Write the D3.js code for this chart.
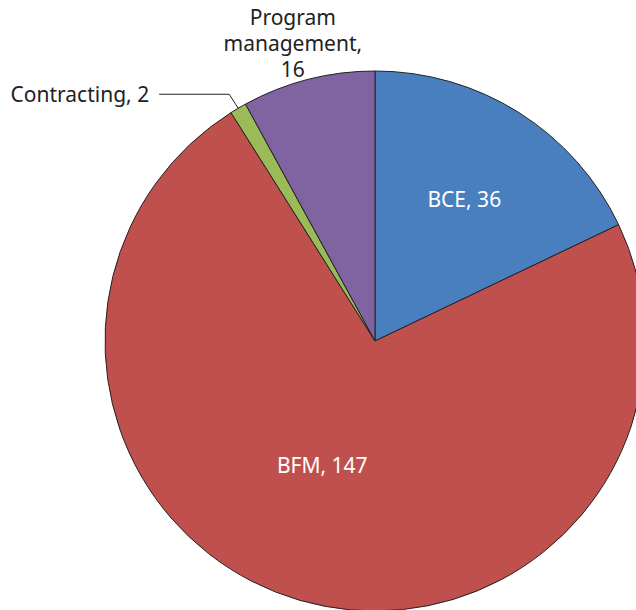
<!DOCTYPE html>
<html>
<head>
<meta charset="utf-8">
<script src="https://cdn.jsdelivr.net/npm/d3@7"></script>
<style>
  body { margin: 0; background: #fff; }
  text { font-family: "Noto Sans", "Open Sans", sans-serif; }
</style>
</head>
<body>
<div id="chart"></div>
<script>
const categories = ["BCE", "BFM", "Contracting", "Program management"];
const values = [36, 147, 2, 16];
const colors = ["#4a7fbf", "#c0504d", "#9bbb59", "#8064a2"];

const width = 636, height = 610;
const cx = 375, cy = 341, r = 270;

const svg = d3.select("#chart").append("svg")
    .attr("width", width)
    .attr("height", height);

const g = svg.append("g").attr("transform", `translate(${cx},${cy})`);

const pie = d3.pie().sort(null).value(d => d.value);
const arcs = pie(categories.map((c, i) => ({ name: c, value: values[i], color: colors[i] })));

const arc = d3.arc().innerRadius(0).outerRadius(r);

g.selectAll("path.slice")
    .data(arcs)
    .enter()
    .append("path")
    .attr("class", "slice")
    .attr("d", arc)
    .attr("fill", d => d.data.color)
    .attr("stroke", "#222")
    .attr("stroke-width", 1);

const mid = d => (d.startAngle + d.endAngle) / 2;
const polar = (a, rad) => [Math.sin(a) * rad, -Math.cos(a) * rad];

// inside labels
const fs = 21;
const bce = arcs[0];
let p = polar(mid(bce), r * 0.62);
g.append("text").attr("x", p[0]).attr("y", p[1]).attr("dy", "0.35em")
    .attr("text-anchor", "middle").attr("fill", "#fff").attr("font-size", fs)
    .text(`${bce.data.name}, ${bce.data.value}`);

const bfm = arcs[1];
p = polar(mid(bfm) + 0.12, r * 0.5);
g.append("text").attr("x", p[0]).attr("y", p[1]).attr("dy", "0.35em")
    .attr("text-anchor", "middle").attr("fill", "#fff").attr("font-size", fs)
    .text(`${bfm.data.name}, ${bfm.data.value}`);

// Program management, outside
const pm = arcs[3];
p = polar(mid(pm), r * 1.14);
const pmText = g.append("text").attr("text-anchor", "middle").attr("fill", "#222")
    .attr("font-size", fs);
["Program", "management,", String(pm.data.value)].forEach((line, i) => {
    pmText.append("tspan").attr("x", p[0] - 6).attr("y", p[1] - 25 + i * 26).attr("dy", "0.35em").text(line);
});

// Contracting with leader line
const ct = arcs[2];
const p0 = polar(mid(ct), r);
const p1 = [p0[0] - 9, p0[1] - 14];
const p2 = [p1[0] - 70, p1[1]];
g.append("polyline")
    .attr("points", [p0, p1, p2].map(q => q.join(",")).join(" "))
    .attr("fill", "none").attr("stroke", "#222").attr("stroke-width", 1);
g.append("text").attr("x", p2[0] - 10).attr("y", p2[1]).attr("dy", "0.35em")
    .attr("text-anchor", "end").attr("fill", "#222").attr("font-size", fs)
    .text(`${ct.data.name}, ${ct.data.value}`);
</script>
</body>
</html>
